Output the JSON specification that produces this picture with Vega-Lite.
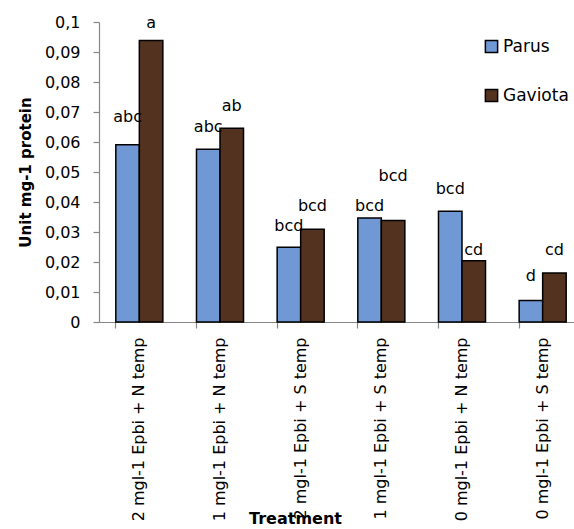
{
  "$schema": "https://vega.github.io/schema/vega-lite/v6.json",
  "autosize": {"type": "none"},
  "padding": {"left": 99, "top": 22, "right": 0, "bottom": 207},
  "width": 475,
  "height": 300,
  "config": {
    "font": "DejaVu Sans",
    "view": {"stroke": null},
    "locale": {"number": {"decimal": ",", "thousands": ".", "grouping": [3], "currency": ["", " €"]}},
    "axisY": {
      "tickCount": 10,
      "format": "~g",
      "labelFontSize": 16,
      "labelColor": "black",
      "labelPadding": 13,
      "labelOverlap": false,
      "labelFlush": false,
      "tickSize": 6,
      "tickColor": "#868686",
      "domainColor": "#868686",
      "domainWidth": 1.2,
      "tickWidth": 1.2,
      "grid": false,
      "titleFontSize": 15,
      "titleFontWeight": "bold",
      "titleColor": "black",
      "titleAngle": -90,
      "titleX": -74,
      "titleY": 150,
      "titleAlign": "center",
      "titleBaseline": "middle"
    }
  },
  "data": {
    "values": [
      {"Treatment": "2 mgl-1 Epbi + N temp", "Cultivar": "Parus", "value": 0.0591, "letter": "abc", "letter_y": 0.0682},
      {"Treatment": "2 mgl-1 Epbi + N temp", "Cultivar": "Gaviota", "value": 0.0938, "letter": "a", "letter_y": 0.0996},
      {"Treatment": "1 mgl-1 Epbi + N temp", "Cultivar": "Parus", "value": 0.0576, "letter": "abc", "letter_y": 0.0649},
      {"Treatment": "1 mgl-1 Epbi + N temp", "Cultivar": "Gaviota", "value": 0.0646, "letter": "ab", "letter_y": 0.0719},
      {"Treatment": "2 mgl-1 Epbi + S temp", "Cultivar": "Parus", "value": 0.0249, "letter": "bcd", "letter_y": 0.0319},
      {"Treatment": "2 mgl-1 Epbi + S temp", "Cultivar": "Gaviota", "value": 0.0309, "letter": "bcd", "letter_y": 0.0386},
      {"Treatment": "1 mgl-1 Epbi + S temp", "Cultivar": "Parus", "value": 0.0347, "letter": "bcd", "letter_y": 0.0386},
      {"Treatment": "1 mgl-1 Epbi + S temp", "Cultivar": "Gaviota", "value": 0.0338, "letter": "bcd", "letter_y": 0.0486},
      {"Treatment": "0 mgl-1 Epbi + N temp", "Cultivar": "Parus", "value": 0.0369, "letter": "bcd", "letter_y": 0.0442},
      {"Treatment": "0 mgl-1 Epbi + N temp", "Cultivar": "Gaviota", "value": 0.0204, "letter": "cd", "letter_y": 0.0239},
      {"Treatment": "0 mgl-1 Epbi + S temp", "Cultivar": "Parus", "value": 0.0072, "letter": "d", "letter_y": 0.0152},
      {"Treatment": "0 mgl-1 Epbi + S temp", "Cultivar": "Gaviota", "value": 0.0163, "letter": "cd", "letter_y": 0.0239}
    ]
  },
  "encoding": {
    "x": {
      "field": "Treatment",
      "type": "nominal",
      "sort": null,
      "scale": {"range": [0, 484], "paddingInner": 0.417, "paddingOuter": 0.2085},
      "axis": {
        "title": "Treatment",
        "titleFontSize": 16,
        "titleFontWeight": "bold",
        "titleColor": "black",
        "titleX": 196,
        "titleY": 196,
        "titleAlign": "center",
        "titleBaseline": "middle",
        "labelAngle": -90,
        "labelAlign": "right",
        "labelBaseline": "middle",
        "labelFontSize": 16,
        "labelColor": "black",
        "labelPadding": 9,
        "labelLimit": 0,
        "labelOverlap": false,
        "bandPosition": 0,
        "tickSize": 6,
        "tickColor": "#868686",
        "domainColor": "#868686",
        "domainWidth": 1.2,
        "tickWidth": 1.2
      }
    },
    "xOffset": {"field": "Cultivar", "type": "nominal", "sort": ["Parus", "Gaviota"]}
  },
  "layer": [
    {
      "mark": {"type": "bar", "stroke": "black", "strokeWidth": 1.5},
      "encoding": {
        "y": {
          "field": "value",
          "type": "quantitative",
          "scale": {"domain": [0, 0.1], "nice": false},
          "axis": {"title": "Unit mg-1 protein"}
        },
        "color": {
          "field": "Cultivar",
          "type": "nominal",
          "sort": ["Parus", "Gaviota"],
          "scale": {"domain": ["Parus", "Gaviota"], "range": ["#7098d4", "#53321f"]},
          "legend": {
            "title": null,
            "orient": "none",
            "legendX": 384,
            "legendY": 16,
            "symbolType": "square",
            "symbolSize": 150,
            "symbolStrokeColor": "black",
            "symbolStrokeWidth": 1.5,
            "labelFontSize": 17,
            "labelColor": "black",
            "rowPadding": 30,
            "labelOffset": 3
          }
        }
      }
    },
    {
      "mark": {"type": "text", "fontSize": 16, "baseline": "middle", "color": "black"},
      "encoding": {
        "y": {"field": "letter_y", "type": "quantitative", "axis": {"title": "Unit mg-1 protein"}},
        "text": {"field": "letter"}
      }
    }
  ]
}
